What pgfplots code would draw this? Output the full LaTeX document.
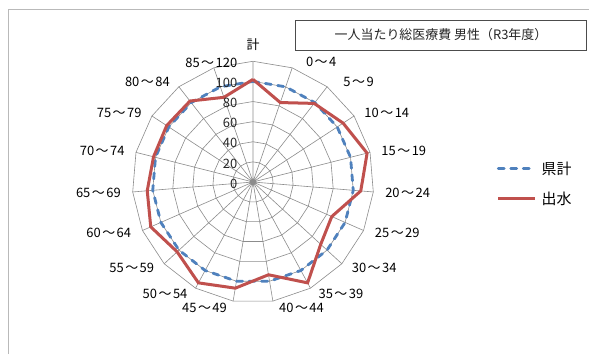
\documentclass[border=0pt]{standalone}
\usepackage{pgfplots}
\pgfplotsset{compat=1.18}
\usepackage{pgfplotstable}
\usepackage{fontspec}
\setmainfont{Noto Sans CJK JP}
\definecolor{kenblue}{HTML}{4F81BD}
\definecolor{izured}{HTML}{C0504D}
\definecolor{gridgray}{HTML}{8C8C8C}
\newcommand{\wv}{\kern1.5bp～\kern1.5bp}

% angle (deg, clockwise from top), 県計, 出水
\pgfplotstableread{
a ken izumi
90 100 102
71.0526 100 83.5
52.1053 100 99
33.1579 100 107
14.2105 100 117
-4.7368 100 107.5
-23.6842 100 85.5
-42.6316 100 91.5
-61.5789 100 114
-80.5263 100 93.5
-99.4737 100 107
-118.4211 100 114
-137.3684 100 102.5
-156.3158 100 111
-175.2632 100 105.5
-194.2105 100 102
-213.1579 100 102.5
-232.1053 100 102
-251.0526 100 89
-270 100 102
}\radar

\pgfplotstableread{
a r
90 120
90 0
71.0526 120
71.0526 0
52.1053 120
52.1053 0
33.1579 120
33.1579 0
14.2105 120
14.2105 0
-4.7368 120
-4.7368 0
-23.6842 120
-23.6842 0
-42.6316 120
-42.6316 0
-61.5789 120
-61.5789 0
-80.5263 120
-80.5263 0
-99.4737 120
-99.4737 0
-118.4211 120
-118.4211 0
-137.3684 120
-137.3684 0
-156.3158 120
-156.3158 0
-175.2632 120
-175.2632 0
-194.2105 120
-194.2105 0
-213.1579 120
-213.1579 0
-232.1053 120
-232.1053 0
-251.0526 120
-251.0526 0
}\spokes

\begin{document}
\begin{tikzpicture}[font=\fontsize{13}{15}\selectfont, x=1bp, y=1bp]
\useasboundingbox (0,0) rectangle (589,354);
\fill[white] (0,0) rectangle (589,354);
\draw[gray!55, line width=0.8bp] (8,0) -- (8,345) -- (589,345);
\draw[black!70, line width=0.8bp] (295,304) rectangle (586,334);
\node[font=\fontsize{13}{15}\selectfont, text=black!85] at (441,319) {一人当たり総医療費 男性（R3年度）};

\begin{axis}[
  at={(253bp,172bp)}, anchor=center,
  x=1.006bp, y=1.006bp,
  xmin=-130, xmax=130, ymin=-130, ymax=130,
  hide axis, clip=false,
  legend style={at={(1.431,0.586)}, anchor=north west, draw=none, fill=none,
    inner sep=0pt, row sep=12bp, font=\fontsize{15}{17}\selectfont,
    /tikz/every odd column/.append style={column sep=3bp}},
  legend cell align=left,
  legend image code/.code={\draw[#1] (0bp,0bp) -- (37bp,0bp);},
]

\pgfplotsinvokeforeach{20,40,60,80,100,120}{
  \addplot[gridgray, line width=0.6bp, data cs=polar, forget plot] table[x=a, y expr=#1] {\radar};
}
\addplot[gridgray, line width=0.6bp, data cs=polar, forget plot] table[x=a, y=r] {\spokes};

\addplot[kenblue, line width=2.8bp, line cap=round, dash pattern=on 6bp off 6.5bp, data cs=polar] table[x=a, y=ken] {\radar};
\addlegendentry{県計}
\addplot[izured, line width=3bp, data cs=polar] table[x=a, y=izumi] {\radar};
\addlegendentry{出水}

% radial tick labels (120 is shared with the 85～120 label, as in the source)
\pgfplotsinvokeforeach{0,20,40,60,80,100}{
  \node[anchor=east, inner sep=0pt, text=black!85] at (axis cs:-15.5,#1-1.5) {#1};
}

\node at (axis cs:0,137) {計};
\node at (axis cs:67.8,119.4) {0\wv4};
\node at (axis cs:105,99.4) {5\wv9};
\node at (axis cs:133,68.3) {10\wv14};
\node at (axis cs:149.9,30.8) {15\wv19};
\node at (axis cs:153.7,-10.9) {20\wv24};
\node at (axis cs:143.4,-50.7) {25\wv29};
\node at (axis cs:120.5,-85.2) {30\wv34};
\node at (axis cs:87.4,-111) {35\wv39};
\node at (axis cs:48.2,-125.5) {40\wv44};
\node at (axis cs:-48.2,-125.5) {45\wv49};
\node at (axis cs:-87.4,-111) {50\wv54};
\node at (axis cs:-120.5,-85.2) {55\wv59};
\node at (axis cs:-143.4,-50.7) {60\wv64};
\node at (axis cs:-153.7,-10.9) {65\wv69};
\node at (axis cs:-149.9,30.8) {70\wv74};
\node at (axis cs:-133,68.3) {75\wv79};
\node at (axis cs:-105,99.4) {80\wv84};
\node[anchor=east, inner sep=0pt] at (axis cs:-15.5,118.5) {85\wv120};
\end{axis}
\end{tikzpicture}
\end{document}
